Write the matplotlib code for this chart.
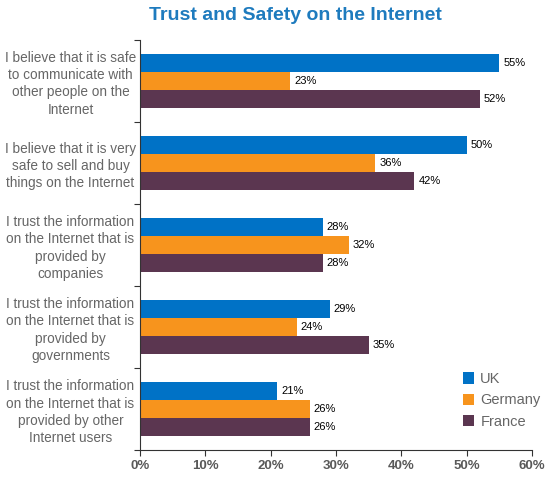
import matplotlib.pyplot as plt
import numpy as np

plt.rcParams['font.family'] = ['Liberation Sans', 'DejaVu Sans']

categories = [
    "I believe that it is safe\nto communicate with\nother people on the\nInternet",
    "I believe that it is very\nsafe to sell and buy\nthings on the Internet",
    "I trust the information\non the Internet that is\nprovided by\ncompanies",
    "I trust the information\non the Internet that is\nprovided by\ngovernments",
    "I trust the information\non the Internet that is\nprovided by other\nInternet users",
]
uk = [55, 50, 28, 29, 21]
germany = [23, 36, 32, 24, 26]
france = [52, 42, 28, 35, 26]
series_names = ["UK", "Germany", "France"]
colors = ["#0072C6", "#F7941D", "#5B3650"]

fig = plt.figure(figsize=(5.5, 4.86), dpi=100)
ax = fig.add_axes([0.2545, 0.074, 0.713, 0.844])

y = np.arange(len(categories))
h = 0.22
for i, (vals, name, c) in enumerate(zip([uk, germany, france], series_names, colors)):
    pos = y + (i - 1) * h
    ax.barh(pos, vals, height=h, color=c, label=name)
    for p, v in zip(pos, vals):
        ax.text(v + 0.6, p, f"{v}%", va="center", ha="left", fontsize=8,
                color="black")

ax.set_ylim(len(categories) - 0.5, -0.5)
ax.set_xlim(0, 60)
ax.set_xticks(np.arange(0, 61, 10))
ax.set_xticklabels([f"{t}%" for t in range(0, 61, 10)], fontsize=9.5,
                   color="#595959", fontweight="bold")
ax.set_yticks(np.arange(-0.5, len(categories)), minor=False)
ax.set_yticklabels([])
ax.set_yticks(y, minor=True)
ax.set_yticklabels(categories, minor=True, fontsize=9.8, color="#666666",
                   ha="center", linespacing=1.28)
ax.tick_params(axis="y", which="minor", length=0, pad=50)
ax.tick_params(axis="y", which="major", length=4, direction="out", color="#333333")
ax.tick_params(axis="x", length=4, direction="out", color="#333333")

for s in ["top", "right"]:
    ax.spines[s].set_visible(False)
ax.spines["left"].set_color("#333333")
ax.spines["bottom"].set_color("#333333")

ax.legend(loc="lower right", bbox_to_anchor=(1.055, 0.02), frameon=False,
          fontsize=10.5, labelcolor="#666666", handlelength=0.8, handleheight=0.8,
          handletextpad=0.4, labelspacing=0.5)

fig.text(0.538, 0.968, "Trust and Safety on the Internet", ha="center", va="center",
         fontsize=14, fontweight="bold", color="#1E7BBE")

fig.savefig("out.png", dpi=100)
